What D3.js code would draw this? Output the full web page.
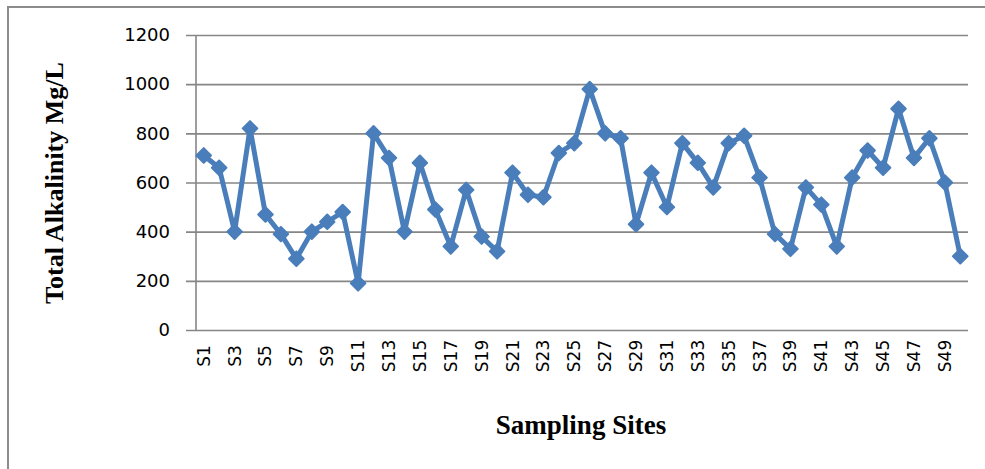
<!DOCTYPE html>
<html>
<head>
<meta charset="utf-8">
<script src="https://cdn.jsdelivr.net/npm/d3@7"></script>
<style>
  html, body { margin: 0; padding: 0; background: #ffffff; }
  svg { display: block; }
</style>
</head>
<body>
<svg id="chart" width="985" height="469"></svg>
<script>
// Sampling sites S1..S50
const sites = ["S1","S2","S3","S4","S5","S6","S7","S8","S9","S10",
  "S11","S12","S13","S14","S15","S16","S17","S18","S19","S20",
  "S21","S22","S23","S24","S25","S26","S27","S28","S29","S30",
  "S31","S32","S33","S34","S35","S36","S37","S38","S39","S40",
  "S41","S42","S43","S44","S45","S46","S47","S48","S49","S50"];

// Total alkalinity (mg/L) per site
const alkalinity = [710, 660, 400, 820, 470, 390, 290, 400, 440, 480,
  190, 800, 700, 400, 680, 490, 340, 570, 380, 320,
  640, 550, 540, 720, 760, 980, 800, 780, 430, 640,
  500, 760, 680, 580, 760, 790, 620, 390, 330, 580,
  510, 340, 620, 730, 660, 900, 700, 780, 600, 300];

const yTicks = [0, 200, 400, 600, 800, 1000, 1200];

const svg = d3.select("#chart");
const W = 985, H = 469;
const plot = { left: 196, right: 968, top: 35, bottom: 330 };

const gridColor = "#868686";
const lineColor = "#4a7ebb";

// outer chart frame
svg.append("rect")
  .attr("x", 8).attr("y", 7)
  .attr("width", W + 20).attr("height", H + 20)
  .attr("fill", "none")
  .attr("stroke", "#8c8c8c")
  .attr("stroke-width", 2);

const x = d3.scaleBand().domain(sites).range([plot.left, plot.right]).paddingInner(0).paddingOuter(0);
const y = d3.scaleLinear().domain([0, 1200]).range([plot.bottom, plot.top]);

// y axis with horizontal gridlines
const yAxis = d3.axisLeft(y)
  .tickValues(yTicks)
  .tickFormat(d3.format("d"))
  .tickSize(-(plot.right - plot.left) - 10)
  .tickSizeOuter(0);

const gy = svg.append("g")
  .attr("transform", `translate(${plot.left},0)`)
  .call(yAxis);
gy.select(".domain").remove();
gy.selectAll(".tick line")
  .attr("x1", -10)
  .attr("x2", plot.right - plot.left)
  .attr("stroke", gridColor)
  .attr("stroke-width", 1.6);
gy.selectAll(".tick text")
  .attr("x", -26)
  .attr("font-family", "'DejaVu Sans', sans-serif")
  .attr("font-size", 18)
  .attr("fill", "#000");

// vertical axis line
svg.append("line")
  .attr("x1", plot.left).attr("x2", plot.left)
  .attr("y1", y(1200)).attr("y2", y(0))
  .attr("stroke", gridColor)
  .attr("stroke-width", 1.6);

// x axis labels, every other site, rotated
const xAxis = d3.axisBottom(x)
  .tickValues(sites.filter((d, i) => i % 2 === 0))
  .tickSize(0)
  .tickSizeOuter(0);
const gx = svg.append("g")
  .attr("transform", `translate(0,${plot.bottom})`)
  .call(xAxis);
gx.select(".domain").remove();
gx.selectAll(".tick text")
  .attr("font-family", "'DejaVu Sans', sans-serif")
  .attr("font-size", 17)
  .attr("fill", "#000")
  .attr("text-anchor", "middle")
  .attr("dy", null)
  .attr("y", null)
  .attr("transform", "translate(6,26) rotate(-90)");

// series line
const cx = d => x(d) + x.bandwidth() / 2;
const pts = sites.map((s, i) => [cx(s), y(alkalinity[i])]);

svg.append("path")
  .datum(pts)
  .attr("fill", "none")
  .attr("stroke", lineColor)
  .attr("stroke-width", 5)
  .attr("stroke-linejoin", "round")
  .attr("d", d3.line());

// diamond markers
const diamond = d3.symbol().type(d3.symbolDiamond2).size(135);
svg.append("g")
  .selectAll("path")
  .data(pts)
  .join("path")
  .attr("transform", d => `translate(${d[0]},${d[1]})`)
  .attr("d", diamond)
  .attr("fill", lineColor)
  .attr("stroke", lineColor)
  .attr("stroke-width", 2)
  .attr("stroke-linejoin", "round");

// axis titles
svg.append("text")
  .attr("transform", `translate(63,${183}) rotate(-90)`)
  .attr("text-anchor", "middle")
  .attr("font-family", "'Liberation Serif', 'Times New Roman', serif")
  .attr("font-weight", "bold")
  .attr("font-size", 26)
  .attr("fill", "#000")
  .text("Total Alkalinity Mg/L");

svg.append("text")
  .attr("x", 581).attr("y", 434)
  .attr("text-anchor", "middle")
  .attr("font-family", "'Liberation Serif', 'Times New Roman', serif")
  .attr("font-weight", "bold")
  .attr("font-size", 27)
  .attr("fill", "#000")
  .text("Sampling Sites");
</script>
</body>
</html>
